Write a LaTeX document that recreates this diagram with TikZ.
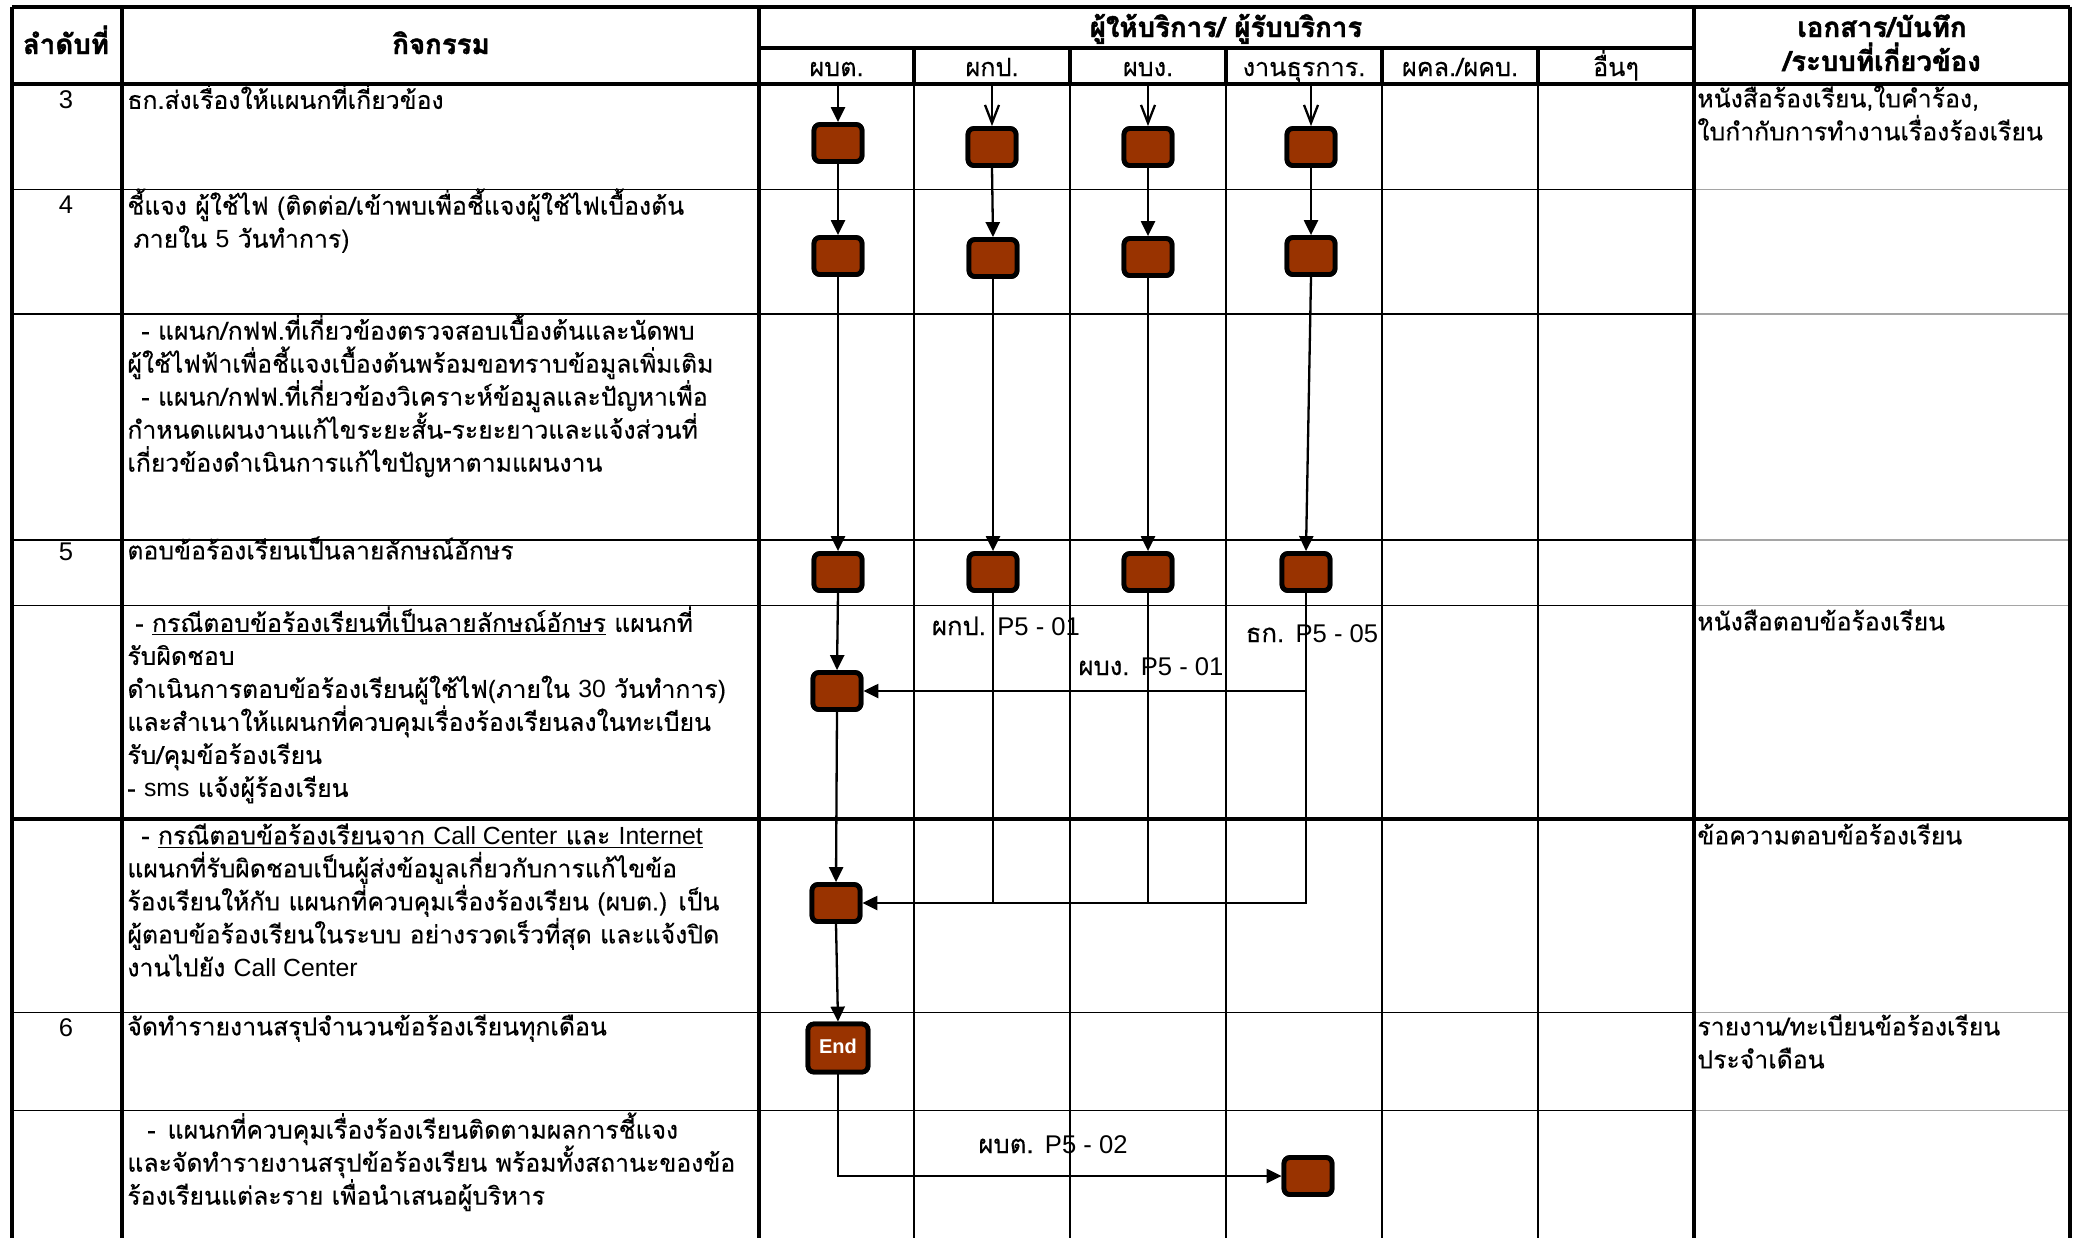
\documentclass[tikz,border=0pt]{standalone}
\usepackage{fontspec}
\setmainfont{Loma}[Script=Thai, UprightFeatures={FakeBold=0.3}, BoldFeatures={FakeBold=1.6}]
\newfontfamily\lat{Liberation Sans}
\usetikzlibrary{arrows.meta}
\definecolor{brick}{RGB}{153,51,0}
\definecolor{rgray}{RGB}{165,165,165}
\newcommand\fst{\rule{0pt}{12pt}}
\newcommand\eng[1]{{\lat #1}}
\tikzset{
  actbox/.style={draw=black, line width=2.4pt, fill=brick, rounded corners=3pt, minimum width=24pt, minimum height=18.5pt, inner sep=0pt},
  endbox/.style={actbox, minimum width=30pt, minimum height=24pt, text=white, font=\lat\bfseries\fontsize{10}{12}\selectfont},
  flow/.style={line width=1.15pt, -{Triangle[length=7.5pt,width=7pt]}},
  openflow/.style={line width=1.15pt, -{Straight Barb[length=9pt,width=7pt]}},
  plainflow/.style={line width=1.15pt},
  body/.style={anchor=north west, inner sep=0pt, align=left, font=\fontsize{12.4}{16.5}\selectfont},
  num/.style={anchor=base, inner sep=0pt, font=\lat\fontsize{12.8}{14}\selectfont},
  head/.style={anchor=base, inner sep=0pt, font=\bfseries\fontsize{13.8}{16}\selectfont},
  sub/.style={anchor=base, inner sep=0pt, font=\fontsize{12.6}{14}\selectfont},
  lbl/.style={anchor=base, inner sep=0pt, font=\fontsize{12.8}{14}\selectfont},
  gridthick/.style={line width=2pt},
  gridthin/.style={line width=0.7pt},
}
\begin{document}
\begin{tikzpicture}[x=0.5pt,y=-0.5pt]
\useasboundingbox (0,0) rectangle (2078,1238);
% ---------- grid ----------
\foreach \yy in {189.5,314,540,605.5,1012.5,1110.5}{
  \draw[gridthin] (12,\yy) -- (1694,\yy);
  \draw[gridthin,rgray] (1694,\yy) -- (2070,\yy);
}
\foreach \xx in {914,1070,1226,1382,1538}{
  \draw[gridthin] (\xx,83.5) -- (\xx,1238);
  \draw[gridthick] (\xx,47.7) -- (\xx,83.5);
}
\draw[gridthick] (12,6.6) -- (2070,6.6);
\draw[gridthick] (759,47.7) -- (1694,47.7);
\draw[gridthick] (12,83.5) -- (2070,83.5);
\draw[gridthick] (12,819) -- (2070,819);
\foreach \xx in {12,122,759,1694,2070}{
  \draw[gridthick] (\xx,6.6) -- (\xx,1238);
}
% ---------- header ----------
\node[head] (h1) at (66,54) {ลำดับที่};
\node[head] (h2) at (441,54) {กิจกรรม};
\node[head] (h3) at (1226,37) {ผู้ให้บริการ/ ผู้รับบริการ};
\node[head] (h4) at (1882,37) {เอกสาร/บันทึก};
\node[head] (h5) at (1882,71) {/ระบบที่เกี่ยวข้อง};
\node[sub] (s1) at (836.5,76) {ผบต.};
\node[sub] (s2) at (992,76) {ผกป.};
\node[sub] (s3) at (1148,76) {ผบง.};
\node[sub] (s4) at (1304,76) {งานธุรการ.};
\node[sub] (s5) at (1460,76) {ผคล./ผคบ.};
\node[sub] (s6) at (1616,76) {อื่นๆ};
% ---------- step numbers ----------
\node[num] (n3) at (66,108) {3};
\node[num] (n4) at (66,213) {4};
\node[num] (n5) at (66,560) {5};
\node[num] (n6) at (66,1036) {6};
% ---------- activity texts ----------
\node[body] (t3) at (127,83) {\fst ธก.ส่งเรื่องให้แผนกที่เกี่ยวข้อง};
\node[body] (t4) at (127,188) {\fst ชี้แจง ผู้ใช้ไฟ (ติดต่อ/เข้าพบเพื่อชี้แจงผู้ใช้ไฟเบื้องต้น\\\hspace{3pt}ภายใน \eng{5} วันทำการ)};
\node[body] (t4b) at (127,313) {\fst\hspace{7pt}- แผนก/กฟฟ.ที่เกี่ยวข้องตรวจสอบเบื้องต้นและนัดพบ\\
ผู้ใช้ไฟฟ้าเพื่อชี้แจงเบื้องต้นพร้อมขอทราบข้อมูลเพิ่มเติม\\
\hspace{7pt}- แผนก/กฟฟ.ที่เกี่ยวข้องวิเคราะห์ข้อมูลและปัญหาเพื่อ\\
กำหนดแผนงานแก้ไขระยะสั้น-ระยะยาวและแจ้งส่วนที่\\
เกี่ยวข้องดำเนินการแก้ไขปัญหาตามแผนงาน};
\node[body] (t5) at (127,535) {\fst ตอบข้อร้องเรียนเป็นลายลักษณ์อักษร};
\node[body] (t5b) at (127,606) {\fst\hspace{4pt}- \underline{กรณีตอบข้อร้องเรียนที่เป็นลายลักษณ์อักษร} แผนกที่\\
รับผิดชอบ\\
ดำเนินการตอบข้อร้องเรียนผู้ใช้ไฟ(ภายใน \eng{30} วันทำการ)\\
และสำเนาให้แผนกที่ควบคุมเรื่องร้องเรียนลงในทะเบียน\\
รับ/คุมข้อร้องเรียน\\
- \eng{sms} แจ้งผู้ร้องเรียน};
\node[body] (t5c) at (127,820) {\fst\hspace{7pt}- \underline{กรณีตอบข้อร้องเรียนจาก \eng{Call Center} และ \eng{Internet}}\\
แผนกที่รับผิดชอบเป็นผู้ส่งข้อมูลเกี่ยวกับการแก้ไขข้อ\\
ร้องเรียนให้กับ แผนกที่ควบคุมเรื่องร้องเรียน (ผบต.) เป็น\\
ผู้ตอบข้อร้องเรียนในระบบ อย่างรวดเร็วที่สุด และแจ้งปิด\\
งานไปยัง \eng{Call Center}};
\node[body] (t6) at (127,1011) {\fst จัดทำรายงานสรุปจำนวนข้อร้องเรียนทุกเดือน};
\node[body] (t6b) at (127,1112) {\fst\hspace{10pt}-\hspace{6pt}แผนกที่ควบคุมเรื่องร้องเรียนติดตามผลการชี้แจง\\
และจัดทำรายงานสรุปข้อร้องเรียน พร้อมทั้งสถานะของข้อ\\
ร้องเรียนแต่ละราย เพื่อนำเสนอผู้บริหาร};
% ---------- document texts ----------
\node[body] (d3) at (1697,83) {\fst หนังสือร้องเรียน,ใบคำร้อง,\\ใบกำกับการทำงานเรื่องร้องเรียน};
\node[body] (d5b) at (1697,606) {\fst หนังสือตอบข้อร้องเรียน};
\node[body] (d5c) at (1697,820) {\fst ข้อความตอบข้อร้องเรียน};
\node[body] (d6) at (1697,1011) {\fst รายงาน/ทะเบียนข้อร้องเรียน\\ประจำเดือน};
% ---------- connector labels ----------
\node[lbl] (l1) at (1006,635) {ผกป. \eng{P5 - 01}};
\node[lbl] (l2) at (1151,675) {ผบง. \eng{P5 - 01}};
\node[lbl] (l3) at (1312,642) {ธก. \eng{P5 - 05}};
\node[lbl] (l4) at (1053,1153) {ผบต. \eng{P5 - 02}};
% ---------- activity boxes ----------
\node[actbox] (a3) at (838,143) {};
\node[actbox] (b3) at (992,147) {};
\node[actbox] (c3) at (1148,147) {};
\node[actbox] (d3b) at (1311,147) {};
\node[actbox] (a4) at (838,256) {};
\node[actbox] (b4) at (993,258) {};
\node[actbox] (c4) at (1148,257) {};
\node[actbox] (d4) at (1311,256) {};
\node[actbox] (a5) at (838,572) {};
\node[actbox] (b5) at (993,572) {};
\node[actbox] (c5) at (1148,572) {};
\node[actbox] (d5) at (1306,572) {};
\node[actbox] (a5b) at (837,691) {};
\node[actbox] (a5c) at (836,903) {};
\node[endbox] (fin) at (838,1048) {\raisebox{2pt}{End}};
\node[actbox] (rep) at (1308,1176) {};
\coordinate (ea) at (838,83.5);
\coordinate (eb) at (992,83.5);
\coordinate (ec) at (1148,83.5);
\coordinate (ed) at (1311,83.5);
% ---------- connectors ----------
\draw[flow] (ea) -- (a3.north);
\draw[openflow] (eb) -- (b3.north);
\draw[openflow] (ec) -- (c3.north);
\draw[openflow] (ed) -- (d3b.north);
\draw[flow] (a3.south) -- (a4.north);
\draw[flow] (b3.south) -- (b4.north);
\draw[flow] (c3.south) -- (c4.north);
\draw[flow] (d3b.south) -- (d4.north);
\draw[flow] (a4.south) -- (a5.north);
\draw[flow] (b4.south) -- (b5.north);
\draw[flow] (c4.south) -- (c5.north);
\draw[flow] (d4.south) -- (d5.north);
\draw[flow] (a5.south) -- (a5b.north);
\draw[flow] (d5.south) |- (a5b.east);
\draw[flow] (d5.south) |- (a5c.east);
\draw[plainflow] (b5.south) -- (b5.south |- a5c.east);
\draw[plainflow] (c5.south) -- (c5.south |- a5c.east);
\draw[flow] (a5b.south) -- (a5c.north);
\draw[flow] (a5c.south) -- (fin.north);
\draw[flow] (fin.south) |- (rep.west);
\foreach \b in {a3,b3,c3,d3b,a4,b4,c4,d4,a5,b5,c5,d5,a5b,a5c,rep}{
  \node[actbox] at (\b) {};
}
\node[endbox] at (fin) {\raisebox{2pt}{End}};
\end{tikzpicture}
\end{document}
